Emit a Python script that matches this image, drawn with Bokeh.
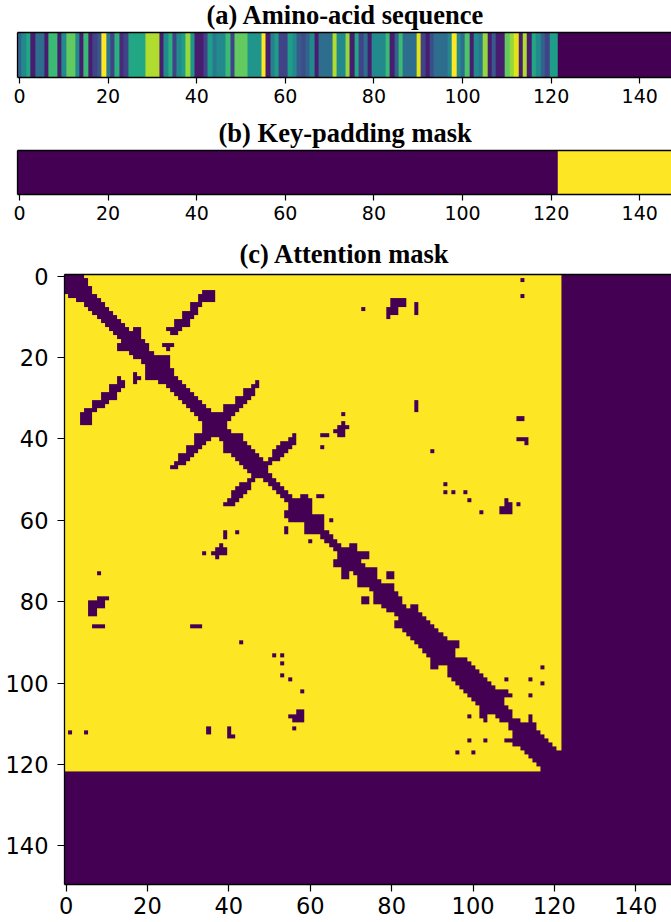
from bokeh.plotting import figure
from bokeh.models import LinearColorMapper, FixedTicker, LinearAxis, Range1d, Title
from bokeh.layouts import column
from bokeh.embed import file_html
from bokeh.resources import INLINE
import numpy as np

N = 150
SEQ_LEN = 122
TICKS = [0, 20, 40, 60, 80, 100, 120, 140]
TITLES = ["(a) Amino-acid sequence", "(b) Key-padding mask", "(c) Attention mask"]

# amino-acid index (a)
SEQUENCE = [
    8, 12, 15, 2, 9, 9, 2, 17, 17, 2,
    12, 19, 19, 12, 2, 17, 2, 5, 7, 25,
    10, 5, 16, 3, 5, 15, 15, 15, 15, 22,
    22, 22, 2, 12, 16, 5, 12, 14, 21, 13,
    2, 2, 5, 14, 10, 12, 12, 17, 5, 19,
    19, 19, 13, 13, 13, 25, 2, 11, 14, 5,
    5, 14, 12, 7, 6, 8, 12, 2, 9, 9,
    9, 22, 12, 12, 21, 2, 15, 5, 9, 2,
    12, 12, 12, 17, 2, 8, 17, 9, 9, 9,
    24, 5, 2, 6, 9, 9, 9, 12, 25, 12,
    9, 18, 2, 12, 10, 21, 2, 7, 2, 2,
    19, 21, 24, 2, 22, 2, 15, 12, 8, 5,
    14, 14,
]

# last dark column of the diagonal band, row by row
BAND_EDGE = [
    4, 5, 5, 6, 6, 7, 8, 9, 10, 11,
    12, 13, 14, 15, 18, 18, 19, 20, 20, 21,
    25, 25, 25, 26, 26, 27, 28, 29, 30, 31,
    32, 33, 34, 35, 41, 40, 39, 39, 40, 43,
    43, 44, 45, 46, 47, 48, 50, 49, 49, 50,
    51, 52, 53, 54, 55, 60, 60, 60, 60, 63,
    63, 63, 63, 64, 65, 66, 67, 71, 74, 74,
    72, 73, 76, 76, 76, 77, 80, 80, 81, 82,
    82, 83, 86, 87, 88, 89, 90, 91, 92, 93,
    96, 96, 95, 95, 98, 99, 100, 101, 102, 103,
    104, 105, 108, 109, 107, 107, 108, 109, 109, 111,
    115, 115, 116, 117, 118, 119, 120, 121, 121, 121,
    121, 121,
]

# separate dark runs above the diagonal: row, first column, last column
ISLANDS = [
    (1, 112, 112), (5, 112, 112), (4, 34, 36), (5, 33, 36), (6, 33, 36), (7, 31, 33),
    (8, 31, 32), (9, 29, 32), (10, 29, 31), (11, 27, 30), (12, 27, 30), (13, 25, 28),
    (14, 26, 27), (17, 24, 26), (18, 25, 25), (13, 17, 18),
    (26, 47, 47), (27, 46, 47), (28, 44, 46), (29, 44, 46), (30, 42, 45), (31, 42, 44),
    (32, 39, 43), (33, 39, 42),
    (39, 56, 56), (40, 55, 56), (41, 53, 56), (42, 52, 55), (43, 51, 54), (44, 51, 53),
    (45, 50, 52),
    (8, 73, 73), (6, 80, 83), (7, 80, 83), (8, 79, 81), (9, 79, 81), (10, 79, 79),
    (7, 86, 86), (8, 86, 86), (9, 86, 86), (31, 86, 86), (32, 86, 86), (33, 86, 86),
    (34, 68, 68), (36, 68, 68), (37, 67, 69), (38, 66, 68), (39, 67, 68), (39, 63, 64),
    (42, 63, 63), (43, 90, 90), (51, 93, 93), (53, 93, 93), (53, 95, 95), (53, 98, 98),
    (55, 99, 99), (58, 102, 102), (55, 108, 108), (56, 108, 109), (57, 107, 109),
    (58, 107, 109), (56, 111, 111), (35, 111, 112), (40, 111, 113), (41, 113, 113),
    (54, 58, 59), (54, 62, 63), (60, 65, 65), (66, 70, 71), (73, 79, 80), (74, 79, 80),
    (81, 85, 86), (96, 117, 117), (99, 108, 108), (99, 114, 114), (100, 117, 117),
    (103, 114, 114), (108, 114, 114), (109, 114, 114),
]

sequence = np.zeros((1, N))
sequence[0, :SEQ_LEN] = SEQUENCE
padding = np.ones((1, N))
padding[0, :SEQ_LEN] = 0

attention = np.ones((N, N))
attention[SEQ_LEN:, :] = 0
attention[:, SEQ_LEN:] = 0
for row, last in enumerate(BAND_EDGE):
    attention[row, row:last + 1] = 0
    attention[row:last + 1, row] = 0
for row, first, last in ISLANDS:
    attention[row, first:last + 1] = 0
    attention[first:last + 1, row] = 0


def panel(data, high, title, height, top, bottom, left, x_range, y_range, dw, dh,
          title_x, title_gap, label_size, tick_out, below_gap, side_gap, show_left_ticks, lift):
    p = figure(width=671, height=height, output_backend="svg", toolbar_location=None,
               x_range=x_range, y_range=y_range, x_axis_location=None, y_axis_location=None,
               min_border_top=top, min_border_bottom=bottom, min_border_left=left,
               min_border_right=0, margin=(-lift, 0, 0, 0))
    p.frame_align = False
    mapper = LinearColorMapper(palette="Viridis256", low=0, high=high)
    p.image(image=[data], x=-0.5, y=y_range.end if dh == 1 else -0.5, dw=dw, dh=dh,
            color_mapper=mapper)
    p.grid.visible = False
    p.outline_line_color = None
    p.title = Title(text=title, text_font="Liberation Serif", text_font_style="bold",
                    text_font_size="26.5px", text_color="black", align="left", offset=title_x,
                    standoff=title_gap)

    def style(axis, gap, out):
        axis.axis_line_color = "black"
        axis.axis_line_width = 1.3
        axis.major_tick_line_color = "black"
        axis.major_tick_line_width = 1.2
        axis.major_tick_in = 0
        axis.major_tick_out = out
        axis.minor_tick_line_color = None
        axis.major_label_text_font = "DejaVu Sans"
        axis.major_label_text_font_size = label_size
        axis.major_label_text_color = "black"
        axis.major_label_standoff = gap

    below = LinearAxis(ticker=FixedTicker(ticks=TICKS))
    style(below, below_gap, tick_out)
    p.add_layout(below, "below")
    above = LinearAxis(ticker=FixedTicker(ticks=[]))
    style(above, 0, 0)
    p.add_layout(above, "above")
    side = LinearAxis(ticker=FixedTicker(ticks=TICKS if show_left_ticks else []))
    style(side, side_gap, tick_out if show_left_ticks else 0)
    p.add_layout(side, "left")
    return p


p_a = panel(sequence, 25, TITLES[0], 123, 37, 41, 17, Range1d(-0.455, 147.17), Range1d(0.5, -0.5), N, 1,
            189, 5, "19px", 6, 5, 0, False, 5)
p_b = panel(padding, 1, TITLES[1], 123, 37, 42, 17, Range1d(-0.455, 147.17), Range1d(0.5, -0.5), N, 1,
            201, 5, "19px", 6, 5, 0, False, 5)
p_c = panel(attention, 1, TITLES[2], 692, 44, 38, 64, Range1d(-0.377, 148.76), Range1d(149.5, -0.377),
            N, N, 175, 12, "22.5px", 7, 5, 9, True, 6)

layout = column(p_a, p_b, p_c, spacing=0, margin=(0, 0, 0, 0))
open("out.html", "w").write(file_html(layout, INLINE))
